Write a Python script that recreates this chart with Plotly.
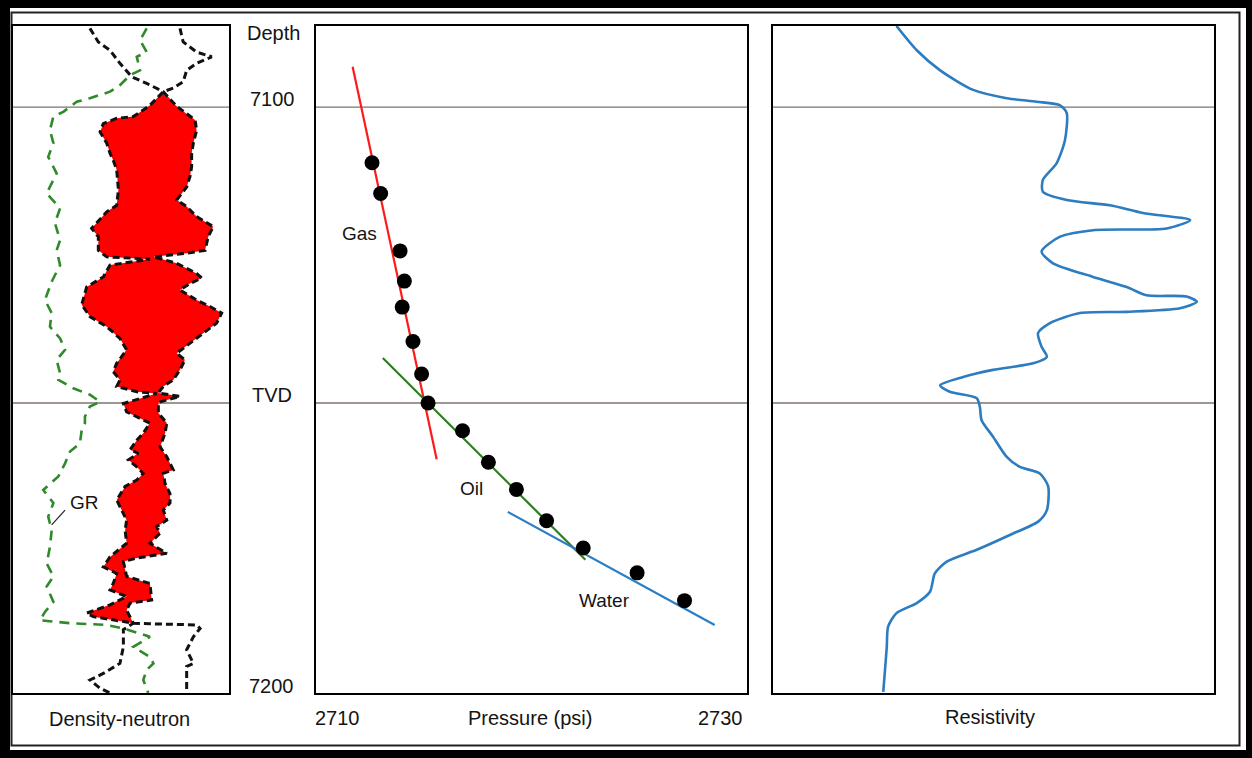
import numpy as np
import plotly.graph_objects as go

W, H = 1252, 758

# ---------------- data ----------------
# Pressure panel (psi vs depth ft)
pressure_psi = [2712.6, 2713.0, 2713.9, 2714.1, 2714.0, 2714.5, 2714.9, 2715.2,
                2716.8, 2718.0, 2719.3, 2720.7, 2722.4, 2724.9, 2727.1]
pressure_depth = [7109.4, 7114.6, 7124.3, 7129.4, 7133.8, 7139.6, 7145.1, 7150.0,
                  7154.7, 7160.0, 7164.6, 7169.9, 7174.5, 7178.7, 7183.4]
gas_line_p = [2711.7, 2715.6]
gas_line_d = [7093.2, 7159.5]
oil_line_p = [2713.1, 2722.5]
oil_line_d = [7142.4, 7176.5]
water_line_p = [2718.9, 2728.5]
water_line_d = [7168.4, 7187.5]
fluid_labels = ["Gas", "Oil", "Water"]
fluid_label_p = [2712.0, 2717.2, 2723.4]
fluid_label_d = [7121.3, 7164.4, 7183.4]

# Resistivity (relative 0-100 scale)
res_x = [28.0, 32.6, 37.9, 45.4, 53.0, 59.8, 65.1, 66.6, 66.2, 64.3, 61.2, 61.2, 66.6,
         76.4, 83.9, 94.6, 89.3, 72.6, 65.1, 60.9, 63.5, 72.6, 80.2, 84.7, 93.8, 96.1,
         92.3, 80.2, 69.6, 62.8, 60.1, 60.9, 62.1, 59.0, 49.9, 43.1, 37.9, 40.1, 46.2,
         46.9, 47.3, 49.9, 53.0, 56.0, 60.5, 62.4, 62.1, 60.2, 53.7, 46.2, 39.4, 36.7,
         35.6, 32.6, 28.0, 26.1, 25.8, 25.4, 25.0]
res_d = [7086.3, 7090.4, 7093.8, 7097.1, 7098.5, 7099.1, 7099.7, 7101.0, 7105.6, 7109.5,
         7112.3, 7114.3, 7115.7, 7116.6, 7117.9, 7119.1, 7120.5, 7120.8, 7121.9, 7124.4,
         7126.4, 7128.7, 7130.4, 7131.8, 7132.0, 7132.9, 7134.0, 7134.6, 7134.8, 7136.5,
         7138.2, 7140.5, 7142.2, 7143.3, 7144.4, 7145.6, 7147.0, 7148.1, 7149.2, 7150.6,
         7152.9, 7155.7, 7159.1, 7160.8, 7161.9, 7164.1, 7168.1, 7170.0, 7172.3, 7174.8,
         7176.8, 7178.8, 7181.9, 7183.8, 7185.5, 7187.8, 7191.2, 7195.1, 7198.8]

# Density-neutron panel (relative 0-100 scale)
curveA_x = [35.6, 39.5, 44.9, 49.5, 55.0, 61.9, 69.6,
            71.2, 75.8, 80.4, 84.3, 85.0, 83.5, 82.7, 82.7, 81.9, 80.4, 75.8, 80.4, 85.0,
            92.7, 90.4, 88.9, 80.4, 65.0, 75.8, 85.0, 87.4, 81.9, 77.3, 85.0, 91.2, 96.6,
            94.3, 88.1, 81.9, 75.8, 79.6, 77.3, 74.2, 69.6, 67.3, 72.7, 77.3, 71.2, 67.3,
            67.3, 71.2, 70.4, 68.1, 71.2, 74.2, 69.6, 70.4, 72.7, 72.7, 69.6, 71.2, 66.5,
            68.1, 63.4, 71.2, 57.3, 51.1, 52.6, 63.4, 64.2, 54.2, 52.6, 55.7,
            51.1, 51.1, 49.5, 41.8, 35.6, 40.3, 44.9]
curveA_d = [7086.7, 7089.0, 7090.4, 7092.6, 7094.9, 7096.0, 7097.4,
            7098.0, 7099.9, 7101.1, 7102.2, 7103.9, 7106.1, 7107.8, 7110.1, 7111.8, 7113.5,
            7115.7, 7116.8, 7118.5, 7120.2, 7121.9, 7124.2, 7124.7, 7125.3, 7126.4, 7128.1,
            7128.9, 7129.8, 7130.9, 7132.6, 7133.7, 7134.8, 7136.5, 7138.2, 7139.9, 7141.6,
            7142.7, 7144.4, 7146.1, 7147.2, 7148.3, 7148.6, 7148.9, 7149.5, 7149.9, 7151.7,
            7153.4, 7155.1, 7157.4, 7159.1, 7161.3, 7161.9, 7163.6, 7165.3, 7166.9, 7168.1,
            7169.8, 7170.9, 7172.0, 7173.7, 7175.4, 7176.2, 7176.8, 7179.3, 7180.5, 7183.3,
            7183.8, 7185.0, 7187.2,
            7188.3, 7191.2, 7194.0, 7195.7, 7196.8, 7198.2, 7199.0]
curveB_x = [77.3, 78.8, 85.0, 92.0, 85.0, 80.4, 78.8, 74.2, 69.6,
            63.4, 60.3, 55.7, 48.0, 41.8, 40.3, 43.4, 44.9, 46.4, 48.0, 48.8, 48.0, 43.4,
            36.4, 39.5, 39.5, 43.4, 63.4, 44.9, 41.8, 34.1, 31.8, 35.6, 43.4, 49.5, 52.6,
            48.0, 46.4, 49.5, 48.0, 57.3, 66.5, 58.8, 51.1, 52.6, 63.4, 60.3, 57.3, 54.2,
            58.0, 53.4, 57.3, 60.3, 57.3, 51.9, 48.0, 50.3, 52.6, 51.9, 52.6, 44.9, 41.8,
            48.0, 46.4, 44.9, 52.6, 44.9, 34.1, 37.2, 55.7,
            63.4, 72.7, 85.0, 86.6, 83.5, 80.4, 83.5, 80.4, 80.4, 80.4]
curveB_d = [7086.7, 7089.0, 7090.7, 7091.5, 7092.6, 7093.8, 7095.7, 7096.8, 7097.4,
            7099.7, 7100.5, 7101.6, 7101.9, 7102.8, 7104.2, 7106.1, 7107.8, 7109.0, 7110.6,
            7114.0, 7116.6, 7117.7, 7120.5, 7121.9, 7124.2, 7125.3, 7125.7, 7126.7, 7128.7,
            7130.4, 7133.4, 7135.4, 7137.1, 7139.1, 7141.0, 7143.3, 7144.7, 7146.1, 7147.2,
            7148.1, 7148.4, 7149.2, 7150.1, 7151.5, 7153.4, 7155.1, 7156.3, 7157.9, 7158.5,
            7159.6, 7160.8, 7161.9, 7163.0, 7164.1, 7166.4, 7168.1, 7169.8, 7171.5, 7173.7,
            7176.0, 7177.7, 7178.8, 7180.5, 7181.6, 7182.7, 7184.1, 7185.5, 7186.1, 7187.2,
            7187.3, 7187.4, 7187.5, 7188.1, 7189.5, 7191.7, 7194.0, 7194.5, 7197.9, 7199.0]
crossover_top = 7097.4
crossover_bottom = 7187.2

gr_x = [61.9, 58.8, 61.9, 57.3, 58.8, 54.2, 49.5, 44.9, 35.6, 29.5, 23.3, 18.7, 17.1, 18.7,
        16.3, 20.2, 15.6, 21.8, 19.4, 21.8, 20.2, 21.8, 17.9, 14.8, 17.9, 17.1, 21.8, 24.1,
        20.2, 21.8, 21.0, 27.9, 35.6, 40.3, 35.6, 33.3, 33.3, 31.8, 31.0, 26.4, 24.1, 21.0,
        14.0, 18.7, 16.3, 17.9, 17.1, 15.6, 18.7, 15.6, 18.7, 14.8, 12.5, 26.4, 43.4, 51.1,
        63.4, 55.7, 63.4, 65.0, 61.9, 60.3, 62.6]
gr_d = [7086.7, 7088.7, 7090.7, 7091.5, 7093.8, 7094.6, 7096.3, 7097.4, 7098.5, 7099.1,
        7100.8, 7101.6, 7103.9, 7106.1, 7108.4, 7111.2, 7114.6, 7117.1, 7119.6, 7122.5,
        7124.2, 7126.7, 7129.5, 7132.6, 7134.8, 7137.1, 7139.1, 7141.0, 7142.7, 7145.0,
        7146.1, 7147.5, 7148.6, 7149.8, 7150.6, 7152.3, 7153.4, 7154.6, 7156.8, 7158.2,
        7160.2, 7162.4, 7164.7, 7166.9, 7169.2, 7171.5, 7174.3, 7177.1, 7179.3, 7181.0,
        7183.6, 7185.3, 7186.7, 7187.2, 7187.5, 7188.1, 7189.5, 7191.2, 7192.9, 7194.0,
        7195.1, 7196.8, 7199.0]

depth_lines = [7100, 7150]
depth_range = [7199.0, 7086.3]
pressure_range = [2710, 2730]
pressure_tick_labels = ["2710", "2730"]

# ---------------- figure ----------------
FONT = "Liberation Sans, Arial, Helvetica, sans-serif"
TXT = "#141414"

def pxx(x):
    return x / W

def pxy(y):
    return 1 - y / H

fig = go.Figure()

# crossover fill (polygon between the two curves where they cross)
a_x = np.array(curveA_x); a_d = np.array(curveA_d)
b_x = np.array(curveB_x); b_d = np.array(curveB_d)
ia0 = int(np.argmin(np.abs(a_d - crossover_top))); ia1 = int(np.argmin(np.abs(a_d - crossover_bottom)))
ib0 = int(np.argmin(np.abs(b_d - crossover_top))); ib1 = int(np.argmin(np.abs(b_d - crossover_bottom)))
poly_x = np.concatenate([b_x[ib0:ib1 + 1], a_x[ia0:ia1 + 1][::-1]])
poly_d = np.concatenate([b_d[ib0:ib1 + 1], a_d[ia0:ia1 + 1][::-1]])
fig.add_trace(go.Scatter(x=poly_x, y=poly_d, mode="lines", fill="toself",
                         fillcolor="#ff0000", line=dict(width=0, color="#ff0000"),
                         xaxis="x", yaxis="y", hoverinfo="skip"))
fig.add_trace(go.Scatter(x=gr_x, y=gr_d, mode="lines",
                         line=dict(color="#2f8a2a", width=2.6, dash="10px,7px"),
                         xaxis="x", yaxis="y"))
for cx, cd in ((curveA_x, curveA_d), (curveB_x, curveB_d)):
    fig.add_trace(go.Scatter(x=cx, y=cd, mode="lines",
                             line=dict(color="#111111", width=3, dash="7px,4px"),
                             xaxis="x", yaxis="y"))

# pressure panel
fig.add_trace(go.Scatter(x=gas_line_p, y=gas_line_d, mode="lines",
                         line=dict(color="#ff1a1a", width=2.2), xaxis="x2", yaxis="y2"))
fig.add_trace(go.Scatter(x=oil_line_p, y=oil_line_d, mode="lines",
                         line=dict(color="#2e7d1e", width=2.2), xaxis="x2", yaxis="y2"))
fig.add_trace(go.Scatter(x=water_line_p, y=water_line_d, mode="lines",
                         line=dict(color="#2a7fc4", width=2.2), xaxis="x2", yaxis="y2"))
fig.add_trace(go.Scatter(x=pressure_psi, y=pressure_depth, mode="markers",
                         marker=dict(color="#000000", size=15), xaxis="x2", yaxis="y2"))

# resistivity
fig.add_trace(go.Scatter(x=res_x, y=res_d, mode="lines",
                         line=dict(color="#2b7cc0", width=2.6, shape="spline", smoothing=0.7),
                         xaxis="x3", yaxis="y3"))

axis_common = dict(showgrid=False, zeroline=False, showticklabels=False, ticks="",
                   showline=True, mirror=True, linecolor="#000000", linewidth=2)
ydom = [pxy(693), pxy(26)]
fig.update_layout(
    width=W, height=H, margin=dict(l=0, r=0, t=0, b=0),
    paper_bgcolor="#000000", plot_bgcolor="#ffffff", showlegend=False,
    xaxis=dict(domain=[pxx(13), pxx(229)], range=[0, 100], anchor="y", **axis_common),
    yaxis=dict(domain=ydom, range=depth_range, anchor="x", **axis_common),
    xaxis2=dict(domain=[pxx(316), pxx(747)], range=pressure_range, anchor="y2", **axis_common),
    yaxis2=dict(domain=ydom, range=depth_range, anchor="x2", **axis_common),
    xaxis3=dict(domain=[pxx(773), pxx(1214)], range=[0, 100], anchor="y3", **axis_common),
    yaxis3=dict(domain=ydom, range=depth_range, anchor="x3", **axis_common),
)

shapes = [
    dict(type="rect", xref="paper", yref="paper", x0=pxx(10), x1=pxx(1246), y0=pxy(750), y1=pxy(8),
         fillcolor="#ffffff", line=dict(width=0), layer="below"),
    dict(type="rect", xref="paper", yref="paper", x0=pxx(11.5), x1=pxx(1239.5), y0=pxy(745.5), y1=pxy(12.5),
         fillcolor="rgba(0,0,0,0)", line=dict(color="#222222", width=2), layer="below"),
]
for ax in ("", "2", "3"):
    for d in depth_lines:
        shapes.append(dict(type="line", xref=f"x{ax} domain", yref=f"y{ax}", x0=0, x1=1, y0=d, y1=d,
                           line=dict(color="#7d736e", width=1.3), layer="below"))
# GR leader line
shapes.append(dict(type="line", xref="x", yref="y", x0=24.1, x1=17.9, y0=7168.1, y1=7170.6,
                   line=dict(color="#222222", width=1.2)))
fig.update_layout(shapes=shapes)

ann = []
def label(text, x, y, size=20, xanchor="center"):
    ann.append(dict(text=text, x=pxx(x), y=pxy(y), xref="paper", yref="paper", showarrow=False,
                    xanchor=xanchor, yanchor="middle", font=dict(family=FONT, size=size, color=TXT)))

label("Depth", 273, 33)
label(str(depth_lines[0]), 272, 99)
label("TVD", 272, 395)
label("7200", 271, 686)
label("Density-neutron", 119, 719)
label(pressure_tick_labels[0], 337, 718)
label("Pressure (psi)", 530, 718)
label(pressure_tick_labels[1], 720, 718)
label("Resistivity", 990, 717)
for t, p, d in zip(fluid_labels, fluid_label_p, fluid_label_d):
    ann.append(dict(text=t, x=p, y=d, xref="x2", yref="y2", showarrow=False,
                    font=dict(family=FONT, size=19, color=TXT)))
ann.append(dict(text="GR", x=32.9, y=7166.8, xref="x", yref="y", showarrow=False,
                font=dict(family=FONT, size=19, color=TXT)))
fig.update_layout(annotations=ann)

fig.write_html("out.html")
